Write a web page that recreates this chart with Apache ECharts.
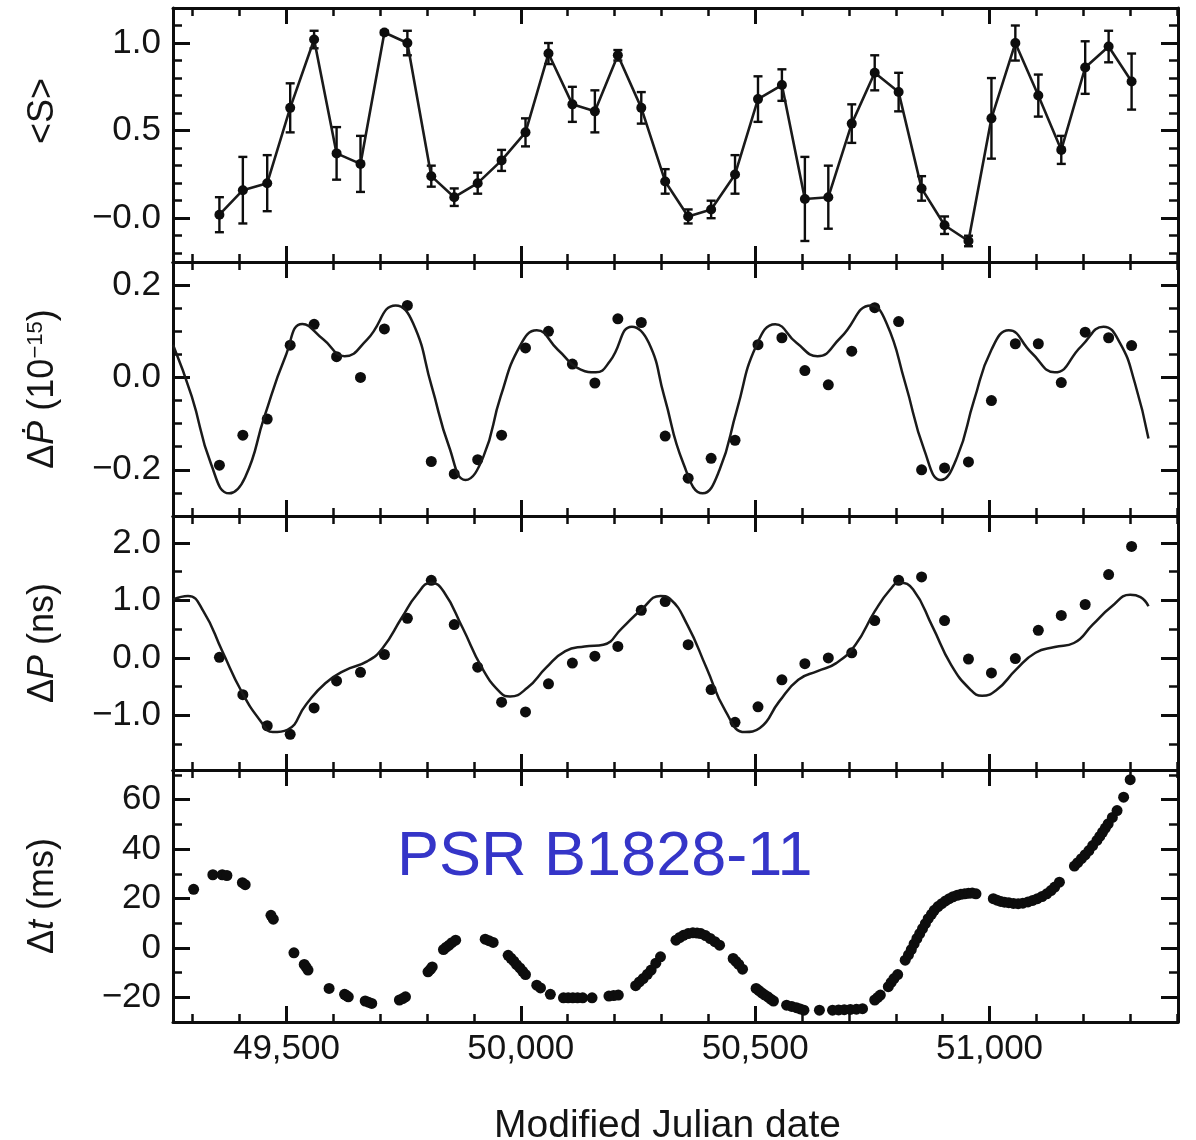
<!DOCTYPE html>
<html>
<head>
<meta charset="utf-8">
<script src="https://cdn.jsdelivr.net/npm/echarts@6/dist/echarts.min.js"></script>
<style>
  html, body { margin: 0; padding: 0; background: #fff; }
  #chart { width: 1196px; height: 1140px; }
</style>
</head>
<body>
<div id="chart"></div>
<script>
// Observation epochs (MJD) shared by the three upper panels
const epochs = [49357, 49407, 49459, 49508, 49559, 49607, 49658, 49709, 49758, 49809,
                49858, 49908, 49959, 50010, 50059, 50110, 50158, 50207, 50257, 50308,
                50357, 50406, 50457, 50506, 50557, 50606, 50656, 50706, 50755, 50806,
                50855, 50904, 50955, 51004, 51055, 51104, 51153, 51204, 51254, 51303];

// Pulse-shape parameter <S> and its 1-sigma uncertainty
const shapeVal = [0.02, 0.16, 0.20, 0.63, 1.02, 0.37, 0.31, 1.06, 1.00, 0.24,
                  0.12, 0.20, 0.33, 0.49, 0.94, 0.65, 0.61, 0.93, 0.63, 0.21,
                  0.01, 0.05, 0.25, 0.68, 0.76, 0.11, 0.12, 0.54, 0.83, 0.72,
                  0.17, -0.04, -0.13, 0.57, 1.00, 0.70, 0.39, 0.86, 0.98, 0.78];
const shapeErr = [0.10, 0.19, 0.16, 0.14, 0.05, 0.15, 0.16, 0.01, 0.07, 0.06,
                  0.05, 0.06, 0.06, 0.08, 0.06, 0.10, 0.12, 0.03, 0.09, 0.07,
                  0.04, 0.05, 0.11, 0.13, 0.09, 0.24, 0.18, 0.11, 0.10, 0.11,
                  0.07, 0.05, 0.03, 0.23, 0.10, 0.12, 0.08, 0.15, 0.09, 0.16];

// Spin-down rate residual (1e-15) at each epoch
const pdotVal = [-0.19, -0.125, -0.09, 0.07, 0.115, 0.045, 0.0, 0.105, 0.156, -0.182,
                 -0.209, -0.178, -0.125, 0.064, 0.10, 0.029, -0.012, 0.127, 0.119, -0.127,
                 -0.218, -0.175, -0.136, 0.071, 0.086, 0.015, -0.016, 0.057, 0.151, 0.121,
                 -0.20, -0.196, -0.183, -0.05, 0.073, 0.073, -0.011, 0.098, 0.086, 0.069];
// Model curve for the spin-down residual
const pdotFitMJD = [49258, 49298, 49339, 49378, 49412, 49453, 49498, 49534, 49579, 49624,
                    49672, 49733, 49770, 49810, 49847, 49882, 49920, 49957, 49998, 50034,
                    50079, 50128, 50160, 50190, 50237, 50273, 50306, 50347, 50388, 50424,
                    50461, 50502, 50543, 50588, 50633, 50682, 50747, 50780, 50820, 50861,
                    50896, 50931, 50967, 51004, 51041, 51090, 51139, 51196, 51243, 51278,
                    51310, 51339];
const pdotFitVal = [0.071, -0.041, -0.187, -0.251, -0.216, -0.085, 0.046, 0.116, 0.082, 0.046,
                    0.082, 0.156, 0.118, -0.02, -0.15, -0.222, -0.172, -0.041, 0.068, 0.102,
                    0.06, 0.017, 0.011, 0.035, 0.11, 0.075, -0.041, -0.187, -0.251, -0.2,
                    -0.07, 0.068, 0.115, 0.075, 0.046, 0.086, 0.156, 0.118, -0.012, -0.158,
                    -0.222, -0.172, -0.049, 0.06, 0.102, 0.053, 0.011, 0.068, 0.11, 0.075,
                    -0.012, -0.132];

// Period residual (ns) at each epoch
const periodVal = [0.01, -0.64, -1.18, -1.33, -0.87, -0.40, -0.25, 0.06, 0.69, 1.35,
                   0.58, -0.16, -0.77, -0.94, -0.45, -0.09, 0.03, 0.20, 0.83, 0.98,
                   0.23, -0.55, -1.12, -0.85, -0.38, -0.10, 0.0, 0.09, 0.65, 1.35,
                   1.41, 0.65, -0.02, -0.26, -0.01, 0.48, 0.74, 0.93, 1.45, 1.94];
// Model curve for the period residual
const periodFitMJD = [49258, 49290, 49323, 49363, 49404, 49445, 49471, 49502, 49542, 49583,
                      49624, 49672, 49705, 49746, 49778, 49809, 49835, 49876, 49917, 49957,
                      49977, 50014, 50054, 50095, 50136, 50176, 50216, 50257, 50298, 50318,
                      50355, 50396, 50437, 50478, 50510, 50551, 50592, 50633, 50673, 50714,
                      50755, 50788, 50808, 50837, 50878, 50918, 50959, 50984, 51016, 51057,
                      51098, 51139, 51180, 51220, 51261, 51300, 51322, 51339];
const periodFitVal = [1.02, 1.08, 0.81, 0.12, -0.58, -1.10, -1.29, -1.25, -0.81, -0.44,
                      -0.22, -0.06, 0.17, 0.70, 1.10, 1.31, 1.16, 0.52, -0.17, -0.61,
                      -0.67, -0.52, -0.17, 0.12, 0.20, 0.23, 0.52, 0.84, 1.08, 1.03,
                      0.58, -0.17, -0.93, -1.29, -1.22, -0.76, -0.38, -0.23, -0.09, 0.23,
                      0.81, 1.19, 1.31, 1.19, 0.55, -0.12, -0.55, -0.66, -0.55, -0.20,
                      0.09, 0.19, 0.26, 0.58, 0.90, 1.10, 1.06, 0.90];

// Timing residuals (ms)
const toaMJD = [49302, 49343, 49363, 49373, 49406, 49412, 49467, 49472, 49516, 49538,
                49542, 49546, 49591, 49624, 49628, 49632, 49668, 49675, 49682, 49741,
                49748, 49754, 49802, 49807, 49811, 49835, 49841, 49847, 49853, 49861,
                49924, 49932, 49941, 49973, 49979, 49985, 49991, 49998, 50004, 50010,
                50034, 50042, 50063, 50091, 50101, 50111, 50121, 50132, 50152, 50188,
                50198, 50208, 50245, 50253, 50261, 50270, 50278, 50288, 50298, 50331,
                50339, 50347, 50357, 50367, 50376, 50384, 50394, 50404, 50414, 50424,
                50453, 50459, 50465, 50473, 50502, 50508, 50514, 50520, 50527, 50533,
                50539, 50567, 50578, 50588, 50596, 50604, 50637, 50665, 50678, 50690,
                50703, 50716, 50729, 50755, 50761, 50767, 50784, 50790, 50796, 50804,
                50820, 50827, 50833, 50839, 50845, 50851, 50857, 50863, 50869, 50876,
                50882, 50890, 50898, 50906, 50914, 50922, 50931, 50939, 50947, 50955,
                50963, 50971, 51008, 51016, 51024, 51032, 51041, 51051, 51061, 51071,
                51082, 51092, 51102, 51112, 51122, 51131, 51139, 51149, 51181, 51188,
                51196, 51204, 51212, 51220, 51229, 51235, 51241, 51247, 51253, 51262,
                51272, 51286, 51300];
const toaVal = [23.7, 29.6, 29.6, 29.3, 26.4, 25.6, 13.2, 11.6, -2.0, -6.7,
                -7.8, -9.0, -16.4, -18.8, -19.3, -19.8, -21.5, -22.0, -22.5, -21.1,
                -20.5, -19.8, -9.7, -8.7, -7.7, -0.7, 0.3, 1.1, 2.1, 3.1,
                3.5, 2.9, 2.2, -3.0, -4.2, -5.4, -6.8, -8.1, -9.5, -10.8,
                -15.1, -16.2, -18.8, -20.2, -20.2, -20.2, -20.2, -20.2, -20.2, -19.5,
                -19.3, -19.1, -15.3, -13.8, -12.4, -10.7, -9.0, -6.2, -3.6, 3.1,
                4.2, 5.1, 5.8, 6.1, 6.0, 5.8, 5.0, 3.8, 2.5, 1.1,
                -4.3, -5.5, -6.7, -8.6, -16.4, -17.3, -18.2, -19.0, -19.8, -20.7,
                -21.5, -23.2, -23.7, -24.2, -24.7, -25.2, -25.2, -25.2, -25.1, -25.0,
                -24.9, -24.8, -24.6, -21.1, -20.1, -19.1, -15.7, -14.0, -12.4, -10.8,
                -5.0, -2.8, -0.7, 1.6, 3.8, 5.8, 7.8, 9.8, 11.8, 13.6,
                15.2, 16.7, 17.9, 19.0, 19.9, 20.7, 21.3, 21.7, 21.9, 22.1,
                22.2, 21.9, 19.9, 19.3, 18.8, 18.5, 18.3, 18.0, 17.9, 18.1,
                18.6, 19.2, 19.9, 20.8, 21.9, 23.2, 24.6, 26.6, 33.1, 34.5,
                36.1, 37.7, 39.4, 41.4, 43.5, 45.1, 46.8, 48.5, 50.2, 52.8,
                55.6, 61.0, 68.1];

const FONT = '"Liberation Sans", Arial, Helvetica, sans-serif';
const INK = '#0d0d0d';
const TEXT = '#141414';
const X_MIN = 49258, X_MAX = 51402;
const MINUS = '\u2212';

function signed(v, digits) {
  const s = Math.abs(v).toFixed(digits);
  return v < 0 ? MINUS + s : s;
}

const nameRich = {
  t: { fontSize: 36, fontFamily: FONT, color: TEXT },
  i: { fontSize: 36, fontFamily: FONT + ', "DejaVu Sans"', fontStyle: 'italic', color: TEXT },
  s: { fontSize: 22, fontFamily: FONT, color: TEXT, verticalAlign: 'top' }
};

const panels = [
  { top: 8, height: 254, yMin: -0.25, yMax: 1.2, step: 0.5, minor: 5,
    fmt: v => (Math.abs(v) < 1e-9 ? MINUS + '0.0' : signed(v, 1)),
    name: '{t|<S>}', namePad: [0, 0, 0, 48] },
  { top: 262, height: 254, yMin: -0.3, yMax: 0.25, step: 0.2, minor: 4,
    fmt: v => signed(v, 1),
    name: '{t|\u0394}{i|\u1E56}{t| (10}{s|\u221215}{t|)}', namePad: 0 },
  { top: 516, height: 254, yMin: -1.95, yMax: 2.47, step: 1, minor: 2,
    fmt: v => signed(v, 1),
    name: '{t|\u0394}{i|P}{t| (ns)}', namePad: 0 },
  { top: 770, height: 252, yMin: -30, yMax: 72, step: 20, minor: 2,
    fmt: v => signed(v, 0),
    name: '{t|\u0394}{i|t}{t| (ms)}', namePad: 0 }
];

const frameStyle = { color: INK, width: 3 };

function xAxisFor(gi, position, labelled) {
  return {
    type: 'value', gridIndex: gi, position: position,
    min: X_MIN, max: X_MAX, minInterval: 500, maxInterval: 500, splitNumber: 4,
    axisLine: { show: true, onZero: false, lineStyle: frameStyle },
    axisTick: { show: true, inside: true, length: 16, lineStyle: frameStyle },
    minorTick: { show: true, splitNumber: 5, length: 8, lineStyle: { color: INK, width: 2.5 } },
    splitLine: { show: false }, minorSplitLine: { show: false },
    axisLabel: {
      show: labelled, margin: 10, fontSize: 35, color: TEXT, fontFamily: FONT,
      showMinLabel: false, showMaxLabel: false,
      formatter: v => Math.round(v).toLocaleString('en-US')
    },
    name: labelled ? 'Modified Julian date' : '',
    nameLocation: 'middle', nameGap: 85,
    nameTextStyle: { fontSize: 39, color: TEXT, fontFamily: FONT, padding: [0, 16, 0, 0] }
  };
}

function yAxisFor(gi, position, p) {
  const left = position === 'left';
  return {
    type: 'value', gridIndex: gi, position: position,
    min: p.yMin, max: p.yMax, minInterval: p.step, maxInterval: p.step, splitNumber: 3,
    axisLine: { show: true, onZero: false, lineStyle: frameStyle },
    axisTick: { show: true, inside: true, length: 17, lineStyle: frameStyle },
    minorTick: { show: true, splitNumber: p.minor, length: 9, lineStyle: { color: INK, width: 2.5 } },
    splitLine: { show: false }, minorSplitLine: { show: false },
    axisLabel: {
      show: left, margin: 12, fontSize: 35, color: TEXT, fontFamily: FONT,
      showMinLabel: false, showMaxLabel: false, formatter: p.fmt
    },
    name: left ? p.name : '',
    nameLocation: 'middle', nameGap: 112,
    nameTextStyle: { fontSize: 36, color: TEXT, fontFamily: FONT, rich: nameRich, padding: p.namePad }
  };
}

const grids = [], xAxes = [], yAxes = [];
panels.forEach((p, i) => {
  grids.push({ left: 173, right: 18, top: p.top, height: p.height,
               containLabel: false, outerBoundsMode: 'none' });
  xAxes.push(xAxisFor(i, 'bottom', i === panels.length - 1));
  xAxes.push(xAxisFor(i, 'top', false));
  yAxes.push(yAxisFor(i, 'left', p));
  yAxes.push(yAxisFor(i, 'right', p));
});

const pair = (xs, ys) => xs.map((x, k) => [x, ys[k]]);
const dotStyle = { color: INK, opacity: 1 };

const series = [
  // <S> error bars
  {
    type: 'custom', xAxisIndex: 0, yAxisIndex: 0, z: 3,
    data: epochs.map((x, k) => [x, shapeVal[k] - shapeErr[k], shapeVal[k] + shapeErr[k]]),
    renderItem: (params, api) => {
      const lo = api.coord([api.value(0), api.value(1)]);
      const hi = api.coord([api.value(0), api.value(2)]);
      const hw = 4.5;
      const st = { stroke: INK, lineWidth: 2.4 };
      return {
        type: 'group',
        children: [
          { type: 'line', shape: { x1: lo[0], y1: lo[1], x2: hi[0], y2: hi[1] }, style: st },
          { type: 'line', shape: { x1: lo[0] - hw, y1: lo[1], x2: lo[0] + hw, y2: lo[1] }, style: st },
          { type: 'line', shape: { x1: hi[0] - hw, y1: hi[1], x2: hi[0] + hw, y2: hi[1] }, style: st }
        ]
      };
    }
  },
  {
    type: 'line', xAxisIndex: 0, yAxisIndex: 0, z: 4,
    data: pair(epochs, shapeVal),
    symbol: 'circle', symbolSize: 10, showSymbol: true,
    lineStyle: { color: '#1a1a1a', width: 2.6 }, itemStyle: dotStyle
  },
  {
    type: 'line', xAxisIndex: 2, yAxisIndex: 2, smooth: true,
    data: pair(pdotFitMJD, pdotFitVal), showSymbol: false, symbol: 'none',
    lineStyle: { color: '#1a1a1a', width: 2.5 }
  },
  {
    type: 'scatter', xAxisIndex: 2, yAxisIndex: 2,
    data: pair(epochs, pdotVal), symbolSize: 11, itemStyle: dotStyle
  },
  {
    type: 'line', xAxisIndex: 4, yAxisIndex: 4, smooth: true,
    data: pair(periodFitMJD, periodFitVal), showSymbol: false, symbol: 'none',
    lineStyle: { color: '#1a1a1a', width: 2.5 }
  },
  {
    type: 'scatter', xAxisIndex: 4, yAxisIndex: 4,
    data: pair(epochs, periodVal), symbolSize: 11, itemStyle: dotStyle
  },
  {
    type: 'scatter', xAxisIndex: 6, yAxisIndex: 6,
    data: pair(toaMJD, toaVal), symbolSize: 11, itemStyle: dotStyle
  }
];

const chart = echarts.init(document.getElementById('chart'), null, { renderer: 'canvas' });
chart.setOption({
  animation: false,
  backgroundColor: '#fff',
  grid: grids,
  xAxis: xAxes,
  yAxis: yAxes,
  series: series,
  graphic: [{
    type: 'text', left: 397, top: 826, z: 10,
    style: { text: 'PSR B1828-11', fontSize: 63, fontFamily: FONT, fill: '#3535c8' }
  }]
});
</script>
</body>
</html>
